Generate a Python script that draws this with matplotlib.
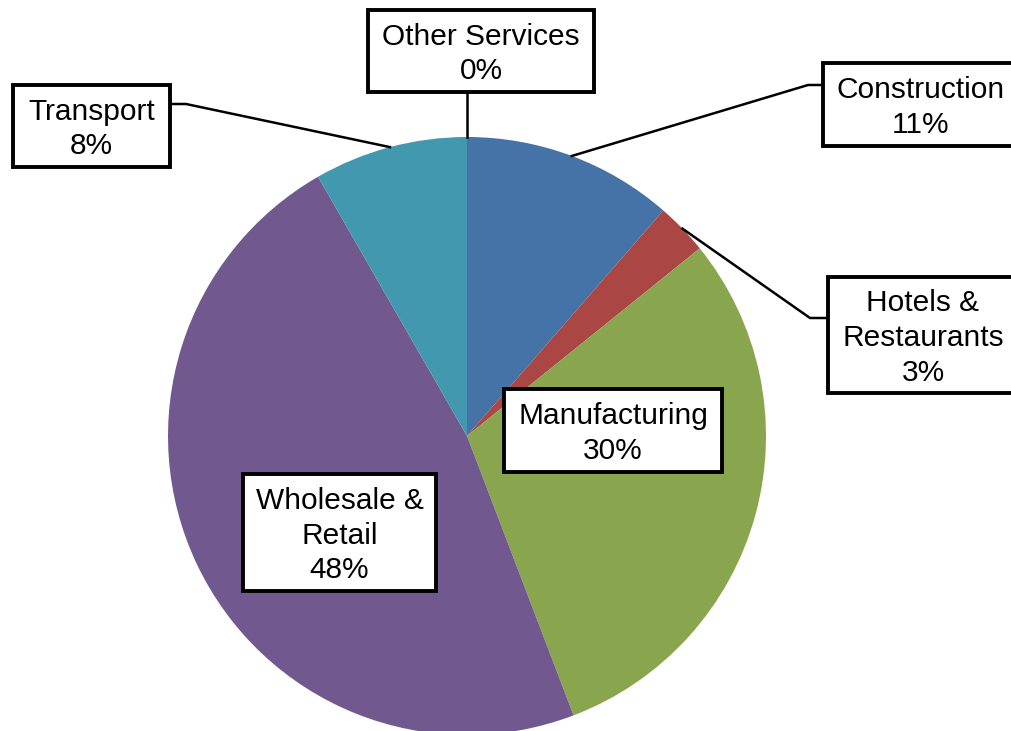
import numpy as np
import matplotlib
matplotlib.use("Agg")
import matplotlib.pyplot as plt
from matplotlib.patches import Rectangle

categories = ["Construction", "Hotels &\nRestaurants", "Manufacturing",
              "Wholesale &\nRetail", "Transport", "Other Services"]
values = [11.4, 2.8, 30.0, 47.5, 8.3, 0.0]
colors = ["#4572A7", "#AA4643", "#89A54E", "#71588F", "#4198AF", "#DB843D"]

W, H = 1012, 731
fig = plt.figure(figsize=(W / 100, H / 100), dpi=100)
ax = fig.add_axes([0, 0, 1, 1])
ax.set_xlim(0, W)
ax.set_ylim(0, H)
ax.set_aspect("equal")
ax.axis("off")

cx, cy, R = 467, H - 436, 299
ax.pie(values, colors=colors, startangle=90, counterclock=False,
       center=(cx, cy), radius=R, wedgeprops=dict(linewidth=0))
ax.set_xlim(0, W)
ax.set_ylim(0, H)

FONT = "Liberation Sans"
FS = 21.5

# label boxes in pixel layout (x0, y0_top, x1, y1_bottom)
boxes = {
    "Construction": (823, 63, 1018, 146),
    "Hotels &\nRestaurants": (828, 277, 1018, 393),
    "Manufacturing": (504, 389, 722, 472),
    "Wholesale &\nRetail": (243, 474, 436, 591),
    "Transport": (13, 85, 170, 167),
    "Other Services": (368, 10, 594, 92),
}

total = sum(values)
cum = np.cumsum([0] + values)
for i, (cat, v) in enumerate(zip(categories, values)):
    x0, y0, x1, y1 = boxes[cat]
    ax.add_patch(Rectangle((x0, H - y1), x1 - x0, y1 - y0, facecolor="white",
                           edgecolor="black", linewidth=2.8, zorder=5,
                           clip_on=False))
    ax.text((x0 + x1) / 2, H - (y0 + y1) / 2 - 3, f"{cat}\n{round(v / total * 100):.0f}%",
            ha="center", va="center", fontsize=FS, family=FONT,
            linespacing=1.3, zorder=6)

def edge_point(i):
    frac = (cum[i] + values[i] / 2) / total
    ang = np.deg2rad(frac * 360)
    return cx + R * np.sin(ang), cy + R * np.cos(ang)

lw = 1.8
# Construction
ex, ey = edge_point(0)
ax.plot([823, 808, ex], [H - 85, H - 85, ey], color="black", lw=lw, zorder=4)
# Hotels
ex, ey = edge_point(1)
ax.plot([828, 810, ex], [H - 318, H - 318, ey], color="black", lw=lw, zorder=4)
# Transport
ex, ey = edge_point(4)
ax.plot([170, 186, ex], [H - 104, H - 104, ey], color="black", lw=lw, zorder=4)
# Other services
ex, ey = edge_point(5)
ax.plot([467, ex], [H - 92, ey], color="black", lw=lw, zorder=4)

fig.savefig("out.png", dpi=100)
